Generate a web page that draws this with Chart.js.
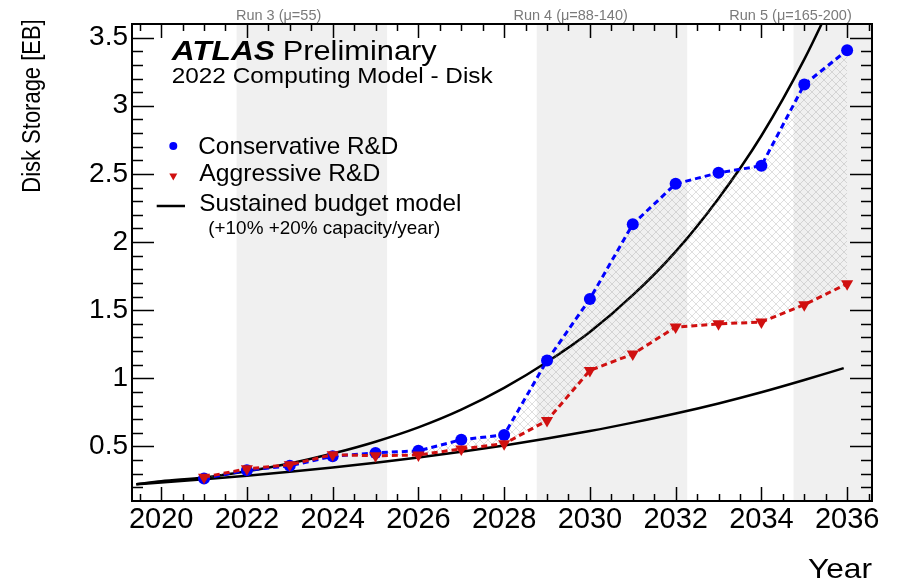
<!DOCTYPE html>
<html>
<head>
<meta charset="utf-8">
<script src="https://cdn.jsdelivr.net/npm/chart.js@4.4.1/dist/chart.umd.min.js"></script>
<style>
  html, body { margin: 0; padding: 0; background: #ffffff; }
  #wrap { width: 897px; height: 582px; }
</style>
</head>
<body>
<div id="wrap"><canvas id="c" width="897" height="582"></canvas></div>
<script>
// ---- data (EB of disk storage per year) ----
const years = [2021, 2022, 2023, 2024, 2025, 2026, 2027, 2028, 2029, 2030, 2031, 2032, 2033, 2034, 2035, 2036];
const conservative = [0.265, 0.326, 0.358, 0.428, 0.453, 0.468, 0.550, 0.585, 1.131, 1.583, 2.131, 2.427, 2.508, 2.560, 3.156, 3.408];
const aggressive   = [0.275, 0.336, 0.366, 0.440, 0.432, 0.438, 0.482, 0.520, 0.690, 1.058, 1.178, 1.376, 1.400, 1.413, 1.540, 1.694];

// sustained budget model, +10% per year
const budgetLowYears = [2019.42, 2020, 2021, 2022, 2023, 2024, 2025, 2026, 2027, 2028, 2029, 2030, 2031, 2032, 2033, 2034, 2035, 2035.92];
const budgetLow      = [0.223, 0.236, 0.260, 0.286, 0.315, 0.346, 0.381, 0.419, 0.461, 0.507, 0.558, 0.613, 0.675, 0.742, 0.816, 0.898, 0.988, 1.075];
// sustained budget model, +20% per year
const budgetHighYears = [2019.42, 2020, 2021, 2022, 2023, 2024, 2025, 2026, 2027, 2028, 2029, 2030, 2031, 2032, 2033, 2034, 2035, 2036];
const budgetHigh      = [0.223, 0.245, 0.272, 0.318, 0.375, 0.448, 0.535, 0.640, 0.770, 0.930, 1.120, 1.340, 1.610, 1.930, 2.320, 2.780, 3.340, 4.000];

// axes
const xTicks = [2020, 2022, 2024, 2026, 2028, 2030, 2032, 2034, 2036];
const yTicks = [0.5, 1, 1.5, 2, 2.5, 3, 3.5];

// LHC run periods
const runStarts = [2021.76, 2028.76, 2034.75];
const runEnds   = [2025.27, 2032.27, 2036.58];
const runLabels = ['Run 3 (\u03bc=55)', 'Run 4 (\u03bc=88-140)', 'Run 5 (\u03bc=165-200)'];
const runLabelAt = [2022.74, 2029.55, 2034.68];

const FONT = "'Liberation Sans', Arial, Helvetica, sans-serif";
const BLUE = '#0000ff';
const RED = '#d01010';

// cross-hatch pattern for the band between the two R&D scenarios
function makeHatch() {
  const p = document.createElement('canvas');
  p.width = 8; p.height = 8;
  const g = p.getContext('2d');
  g.strokeStyle = 'rgba(140,140,140,0.35)';
  g.lineWidth = 0.8;
  g.beginPath();
  g.moveTo(0, 0); g.lineTo(8, 8);
  g.moveTo(8, 0); g.lineTo(0, 8);
  g.stroke();
  return document.getElementById('c').getContext('2d').createPattern(p, 'repeat');
}
const hatch = makeHatch();

function pts(xs, ys) { return xs.map((x, i) => ({ x: x, y: ys[i] })); }

// draw text stretched/squeezed horizontally to a given width
function fitText(ctx, text, x, y, font, width, rot) {
  ctx.save();
  ctx.font = font;
  const w = ctx.measureText(text).width;
  ctx.translate(x, y);
  if (rot) ctx.rotate(rot);
  ctx.scale(width / w, 1);
  ctx.textAlign = 'left';
  ctx.textBaseline = 'alphabetic';
  ctx.fillText(text, 0, 0);
  ctx.restore();
}

const decor = {
  id: 'decor',
  beforeDraw(chart) {
    const { ctx, chartArea: a, scales: { x } } = chart;
    ctx.save();
    ctx.fillStyle = '#f0f0f0';
    for (let i = 0; i < runStarts.length; i++) {
      const x0 = x.getPixelForValue(runStarts[i]);
      const x1 = x.getPixelForValue(runEnds[i]);
      ctx.fillRect(x0, a.top, x1 - x0, a.bottom - a.top);
    }
    ctx.restore();
  },
  afterDatasetsDraw(chart) {
    const { ctx, chartArea: a, scales: { x, y } } = chart;
    ctx.save();
    // frame
    ctx.strokeStyle = '#000';
    ctx.lineWidth = 2;
    ctx.strokeRect(a.left, a.top, a.right - a.left, a.bottom - a.top);
    // tick marks drawn inward on all four sides
    ctx.lineWidth = 1.5;
    ctx.beginPath();
    for (let v = 2019.5; v <= 2036.51; v += 0.5) {
      const px = Math.round(x.getPixelForValue(v)) + 0.5;
      const len = (Math.abs(v % 2) < 1e-6) ? 14 : 7;
      ctx.moveTo(px, a.bottom); ctx.lineTo(px, a.bottom - len);
      ctx.moveTo(px, a.top); ctx.lineTo(px, a.top + len);
    }
    for (let k = 2; k <= 35; k++) {
      const v = k / 10;
      const py = Math.round(y.getPixelForValue(v)) + 0.5;
      const len = (k % 5 === 0) ? 22 : 11;
      ctx.moveTo(a.left, py); ctx.lineTo(a.left + len, py);
      ctx.moveTo(a.right, py); ctx.lineTo(a.right - len, py);
    }
    ctx.stroke();

    // run labels above the frame
    ctx.fillStyle = '#7a7a7a';
    ctx.font = '14.5px ' + FONT;
    ctx.textAlign = 'center';
    ctx.textBaseline = 'alphabetic';
    for (let i = 0; i < runLabels.length; i++) {
      ctx.fillText(runLabels[i], x.getPixelForValue(runLabelAt[i]), 20);
    }

    // headline
    ctx.fillStyle = '#000';
    fitText(ctx, 'ATLAS', 171.7, 59.7, 'italic bold 27px ' + FONT, 103.3);
    fitText(ctx, 'Preliminary', 282.7, 59.7, '27px ' + FONT, 154);
    fitText(ctx, '2022 Computing Model - Disk', 171.7, 83, '22.5px ' + FONT, 321);

    // legend
    ctx.fillStyle = BLUE;
    ctx.beginPath(); ctx.arc(173.3, 146, 4, 0, Math.PI * 2); ctx.fill();
    ctx.fillStyle = RED;
    ctx.beginPath();
    ctx.moveTo(169.3, 173.5); ctx.lineTo(177.3, 173.5); ctx.lineTo(173.3, 180.5);
    ctx.closePath(); ctx.fill();
    ctx.strokeStyle = '#000'; ctx.lineWidth = 2.5;
    ctx.beginPath(); ctx.moveTo(156.7, 206); ctx.lineTo(185, 206); ctx.stroke();
    ctx.fillStyle = '#000';
    fitText(ctx, 'Conservative R&D', 198.3, 154, '24px ' + FONT, 200);
    fitText(ctx, 'Aggressive R&D', 199.3, 180.7, '24px ' + FONT, 181);
    fitText(ctx, 'Sustained budget model', 199.3, 210.7, '24px ' + FONT, 262);
    fitText(ctx, '(+10% +20% capacity/year)', 208.3, 234, '18.5px ' + FONT, 232);

    // axis titles
    fitText(ctx, 'Year', 808, 578, '28px ' + FONT, 64);
    fitText(ctx, 'Disk Storage [EB]', 39.5, 192.7, '26px ' + FONT, 173.4, -Math.PI / 2);
    ctx.restore();
  }
};

new Chart(document.getElementById('c'), {
  type: 'line',
  data: {
    datasets: [
      {
        label: 'Aggressive R&D',
        data: pts(years, aggressive),
        borderColor: RED, borderWidth: 3, borderDash: [6, 4],
        pointStyle: 'triangle', rotation: 180, pointRadius: 7,
        pointBackgroundColor: RED, pointBorderColor: RED, pointBorderWidth: 0,
        fill: false, tension: 0
      },
      {
        label: 'Conservative R&D',
        data: pts(years, conservative),
        borderColor: BLUE, borderWidth: 3, borderDash: [6, 4],
        pointStyle: 'circle', pointRadius: 6,
        pointBackgroundColor: BLUE, pointBorderColor: BLUE, pointBorderWidth: 0,
        backgroundColor: hatch,
        fill: { target: 0 }, tension: 0
      },
      {
        label: 'Sustained budget model (+20%)',
        data: pts(budgetHighYears, budgetHigh),
        borderColor: '#000', borderWidth: 2.5, pointRadius: 0,
        cubicInterpolationMode: 'monotone', fill: false
      },
      {
        label: 'Sustained budget model (+10%)',
        data: pts(budgetLowYears, budgetLow),
        borderColor: '#000', borderWidth: 2.5, pointRadius: 0,
        cubicInterpolationMode: 'monotone', fill: false
      }
    ]
  },
  options: {
    responsive: false,
    animation: false,
    devicePixelRatio: 1,
    layout: { padding: { top: 24, right: 25, left: 0, bottom: 0 } },
    plugins: { legend: { display: false }, tooltip: { enabled: false } },
    scales: {
      x: {
        type: 'linear', min: 2019.32, max: 2036.58,
        grid: { display: false, drawTicks: false },
        border: { display: false },
        afterBuildTicks: s => { s.ticks = xTicks.map(v => ({ value: v })); },
        afterFit: s => { s.height = 81; },
        ticks: {
          color: '#000', font: { family: FONT, size: 29 }, padding: 2,
          maxRotation: 0, autoSkip: false,
          callback: v => String(v)
        }
      },
      y: {
        type: 'linear', min: 0.1, max: 3.6,
        grid: { display: false, drawTicks: false },
        border: { display: false },
        afterBuildTicks: s => { s.ticks = yTicks.map(v => ({ value: v })); },
        afterFit: s => { s.width = 132; },
        ticks: {
          color: '#000', font: { family: FONT, size: 28 }, padding: 4,
          autoSkip: false,
          callback: v => String(v)
        }
      }
    }
  },
  plugins: [decor]
});
</script>
</body>
</html>
